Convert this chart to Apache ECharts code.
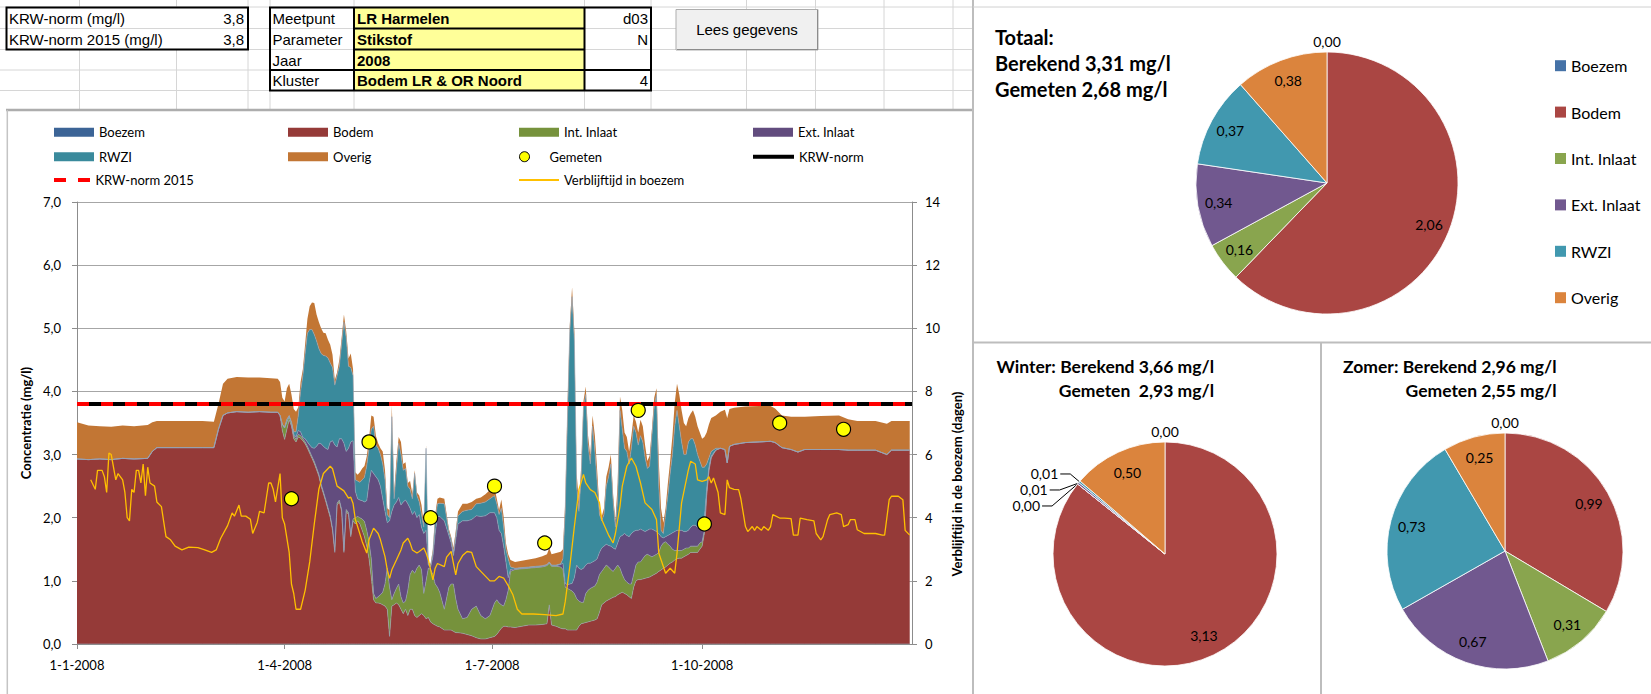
<!DOCTYPE html>
<html lang="nl">
<head>
<meta charset="utf-8">
<title>Stikstof LR Harmelen 2008</title>
<script src="https://cdn.jsdelivr.net/npm/echarts@6/dist/echarts.min.js"></script>
<style>
  html, body { margin: 0; padding: 0; background: #ffffff; }
  #chart { width: 1651px; height: 694px; }
</style>
</head>
<body>
<div id="chart"></div>
<script>
// Dagnummer binnen 2008 (0 = 1 januari 2008) van elke rekenstap van de bronnenverdeling
const dagen = [
  0,5,10,15,20,25,31,33,35,45, 55,60,62,64,66,70,75,80,85,88,
  89,90,91,92,93,94,95,96,97,98, 99,100,101,102,103,104,105,106,107,108,
  109,110,111,112,113,114,115,116,117,118, 119,120,121,122,
  123,124,125,126,127,128,129,130,131,132, 133,134,135,136,137,138,139,140,141,142,
  143,144,145,146,147,148,149,150,151,152, 153,154,155,156,157,158,159,
  161,163,164,165,166,167,169,171,173,175,177,179,181,183,
  184,185,186,187,188,189,190,192,195,198, 201,204,206,207,208,210,212,213,
  214,215,216,217,218,219,220,221,222,223, 224,225,226,227,228,229,230,231,232,233,
  234,235,236,237,238,239,240,241,242,243, 244,245,246,247,248,249,250,251,252,253,
  254,255,256,257,258,259,260,261,262,263, 264,265,266,267,268,269,270,271,272,273,
  274,275,276,277,278, 280,
  282,284,285,286,288,293,299,304,306,309, 313,316,319,326,334,338,342,350,355,357, 365
];

// Bijdragen per bron (mg/l), gestapeld
const boezem = [
  0,0,0,0,0,0,0,0,0,0, 0,0,0,0,0,0,0,0,0,0,
  0,0,0,0,0,0,0,0,0,0, 0,0,0,0,0,0,0,0,0,0,
  0,0,0,0,0,0,0,0,0,0, 0,0,0,0,
  0,0,0,0,0,0,0,0,0,0, 0,0,0,0,0,0,0,0,0,0,
  0,0,0,0,0,0,0,0,0,0, 0,0,0,0,0,0,0,
  0,0,0,0,0,0,0,0,0,0,0,0,0,0,
  0,0,0,0,0,0,0,0,0,0, 0,0,0,0,0,0,0,0,
  0,0,0,0,0,0,0,0,0,0, 0,0,0,0,0,0,0,0,0,0,
  0,0,0,0,0,0,0,0,0,0, 0,0,0,0,0,0,0,0,0,0,
  0,0,0,0,0,0,0,0,0,0, 0,0,0,0,0,0,0,0,0,0,
  0,0,0,0,0, 0,
  0,0,0,0,0,0,0,0,0,0, 0,0,0,0,0,0,0,0,0,0, 0
];
const bodem = [
  2.93,2.92,2.93,2.92,2.94,2.93,2.94,3.05,3.11,3.11, 3.11,3.11,3.40,3.62,3.66,3.68,3.67,3.68,3.67,3.67,
  3.62,3.38,3.24,3.40,3.55,3.45,3.25,3.20,3.28,3.26, 3.22,3.17,3.10,3.02,2.94,2.86,2.76,2.66,2.50,2.38,
  2.26,2.13,2.00,1.80,1.45,2.20,2.25,2.10,1.45,2.10, 2.05,1.70,1.95,1.90,
  1.95,1.90,1.80,1.70,1.55,1.35,1.05,0.70,0.65,0.65, 0.64,0.62,0.60,0.55,0.12,0.60,0.62,0.65,0.62,0.55,
  0.48,0.55,0.45,0.55,0.55,0.45,0.42,0.45,0.48,0.45, 0.40,0.42,0.35,0.32,0.30,0.28,0.27,
  0.22,0.22,0.22,0.20,0.18,0.18,0.17,0.15,0.13,0.10,0.08,0.08,0.10,0.12,
  0.15,0.20,0.25,0.28,0.28,0.27,0.27,0.26,0.28,0.30, 0.30,0.31,0.32,0.62,0.30,0.28,0.25,0.24,
  0.24,0.22,0.22,0.22,0.22,0.22,0.28,0.32,0.33,0.34, 0.35,0.36,0.37,0.38,0.40,0.50,0.62,0.65,0.68,0.70,
  0.72,0.74,0.75,0.78,0.80,0.82,0.80,0.78,0.75,0.72, 0.90,1.00,1.02,1.02,1.03,1.04,1.05,1.06,1.08,1.10,
  1.12,1.15,1.17,1.20,1.22,1.25,1.28,1.30,1.33,1.35, 1.36,1.36,1.38,1.40,1.42,1.45,1.45,1.45,1.45,1.50,
  1.55,1.75,2.35,2.75,2.95, 3.07,
  3.10,3.08,2.87,3.13,3.16,3.19,3.20,3.21,3.19,3.11, 3.08,3.04,3.08,3.08,3.08,3.07,3.07,3.07,3.00,3.07, 3.07
];
const intInlaat = [
  0,0,0,0,0,0,0,0,0,0, 0,0,0,0,0,0,0,0,0,0,
  0,0.10,0.18,0.12,0.05,0.05,0.05,0.04,0.04,0.04, 0.03,0.03,0.03,0.03,0.03,0.03,0.03,0.03,0.03,0.03,
  0.03,0.03,0.03,0.03,0.03,0.03,0.03,0.03,0.03,0.03, 0.03,0.03,0.03,0.10,
  0.07,0.10,0.18,0.24,0.25,0.27,0.30,0.10,0.07,0.10, 0.14,0.20,0.35,0.65,0.78,0.10,0.18,0.23,0.33,0.20,
  0.17,0.13,0.40,0.55,0.62,0.67,0.78,0.80,0.70,0.35, 0.60,0.78,0.83,0.78,0.65,0.62,0.55,
  0.33,0.68,0.73,0.75,0.54,0.37,0.23,0.27,0.42,0.50,0.37,0.32,0.35,0.53,
  0.55,0.45,0.37,0.32,0.42,0.58,0.88,0.92,0.91,0.90, 0.91,0.91,0.92,0.66,0.93,0.95,0.97,0.94,
  0.66,0.66,0.64,0.62,0.58,0.50,0.40,0.34,0.33,0.46, 0.50,0.52,0.53,0.54,0.58,0.60,0.53,0.55,0.57,0.52,
  0.46,0.41,0.45,0.47,0.40,0.28,0.22,0.20,0.20,0.23, 0.20,0.25,0.28,0.28,0.32,0.36,0.37,0.34,0.30,0.30,
  0.30,0.30,0.38,0.40,0.40,0.33,0.27,0.20,0.15,0.13, 0.12,0.12,0.12,0.12,0.10,0.10,0.10,0.10,0.10,0.10,
  0.07,0.05,0.03,0.01,0.01, 0,
  0,0,0,0,0,0,0,0,0,0, 0,0,0,0,0,0,0,0,0,0, 0
];
const extInlaat = [
  0,0,0,0,0,0,0,0,0,0, 0,0,0,0,0,0,0,0,0,0,
  0,0,0,0,0,0,0.02,0.04,0.06,0.06, 0.02,0.05,0.07,0.10,0.14,0.21,0.34,0.49,0.64,0.72,
  0.81,0.92,1.17,1.39,1.67,0.89,0.97,1.12,1.70,0.92, 1.02,1.47,1.24,0.42,
  0.28,0.28,0.29,0.31,0.47,0.93,1.40,1.90,1.93,1.85, 1.72,1.48,1.15,0.72,1.05,1.40,1.40,1.37,1.37,1.45,
  1.60,1.60,1.37,1.05,0.88,0.98,0.80,0.80,0.67,0.95, 0.80,0.05,0.04,0.28,0.80,1.12,1.20,
  1.40,0.82,0.65,0.45,0.93,1.35,1.55,1.53,1.42,1.43,1.57,1.63,1.63,1.43,
  1.30,1.15,1.13,0.95,0.60,0.20,0.03,0.01,0.01,0.01, 0.01,0.01,0.01,0.01,0.01,0.01,0.04,0.10,
  0.06,0.06,0.09,0.12,0.25,0.53,0.52,0.52,0.54,0.45, 0.43,0.40,0.40,0.40,0.37,0.35,0.37,0.35,0.33,0.34,
  0.37,0.37,0.30,0.35,0.50,0.62,0.73,0.74,0.75,0.80, 0.68,0.55,0.50,0.52,0.45,0.38,0.38,0.42,0.44,0.40,
  0.36,0.30,0.15,0.08,0.08,0.14,0.19,0.26,0.30,0.32, 0.32,0.32,0.28,0.26,0.28,0.30,0.33,0.33,0.30,0.25,
  0.26,0.20,0.07,0.04,0.02, 0,
  0,0,0,0,0,0,0,0,0,0, 0,0,0,0,0,0,0,0,0,0, 0
];
const rwzi = [
  0,0,0,0,0,0,0,0,0,0, 0,0,0,0,0,0,0,0,0,0,
  0,0,0.02,0.04,0.02,0.02,0.04,0.08,0.24,0.64, 0.98,1.35,1.72,1.83,1.87,1.80,1.67,1.50,1.43,1.44,
  1.46,1.45,1.25,1.16,0.95,1.13,1.15,1.50,1.92,1.80, 1.30,1.18,1.03,0.18,
  0.28,0.28,0.33,0.39,0.55,0.55,0.65,0.75,0.50,0.50, 0.50,0.55,0.50,0.13,0.05,1.50,0.10,0.50,0.86,0.80,
  0.50,0.50,0.28,0.30,0.25,0.60,0.35,0.20,0.20,0.10, 1.30,0.01,0.02,0.07,0.20,0.20,0.21,
  0.27,0.06,0.06,0.05,0.07,0.13,0.15,0.17,0.16,0.19,0.21,0.22,0.22,0.27,
  0.22,0.25,0.40,0.30,0.20,0.30,0.04,0.01,0.01,0.01, 0.01,0.01,0.01,0.01,0.01,0.01,0.01,0.07,
  1.14,2.66,4.00,4.54,3.75,1.25,0.90,1.47,2.55,2.70, 1.87,1.57,2.15,1.73,1.20,0.60,0.43,0.50,0.92,1.09,
  1.30,0.73,0.35,0.70,2.00,1.68,1.35,1.33,1.15,1.35, 1.67,1.55,1.35,1.48,1.40,1.17,0.98,1.00,1.48,1.95,
  2.17,0.75,0.10,0.07,0.35,0.63,0.96,1.24,1.67,1.90, 1.65,1.40,1.22,1.22,1.40,1.40,1.37,1.27,1.15,1.05,
  0.92,0.80,0.40,0.15,0.07, 0.03,
  0,0,0,0,0,0,0,0,0,0, 0,0,0,0,0,0,0,0,0,0, 0
];
const overig = [
  0.58,0.54,0.52,0.52,0.52,0.52,0.53,0.46,0.42,0.42, 0.42,0.41,0.40,0.50,0.54,0.55,0.55,0.54,0.54,0.53,
  0.53,0.42,0.40,0.49,0.50,0.43,0.36,0.32,0.13,0.15, 0.10,0.15,0.23,0.37,0.43,0.50,0.42,0.42,0.40,0.36,
  0.36,0.29,0.29,0.20,0.08,0.05,0.10,0.10,0.12,0.10, 0.12,0.22,0.10,0.12,
  0.10,0.16,0.18,0.18,0.15,0.15,0.22,0.15,0.15,0.08, 0.10,0.20,0.15,0.10,0.12,0.18,0.10,0.15,0.10,0.20,
  0.10,0.10,0.05,0.13,0.08,0.05,0.05,0.10,0.15,0.05, 0.05,0.02,0.03,0.05,0.10,0.08,0.09,
  0.08,0.04,0.04,0.07,0.06,0.07,0.12,0.10,0.12,0.08,0.09,0.12,0.14,0.13,
  0.08,0.07,0.14,0.17,0.10,0.07,0.11,0.10,0.11,0.12, 0.13,0.15,0.16,0.22,0.17,0.19,0.19,0.15,
  0.15,0.20,0.10,0.15,0.15,0.20,0.15,0.15,0.10,0.13, 0.15,0.13,0.17,0.25,0.20,0.10,0.07,0.10,0.15,0.15,
  0.15,0.10,0.10,0.25,0.22,0.30,0.25,0.23,0.20,0.20, 0.17,0.17,0.20,0.25,0.25,0.20,0.12,0.16,0.10,0.15,
  0.10,0.40,0.35,0.17,0.10,0.20,0.20,0.30,0.37,0.42, 0.50,0.50,0.50,0.45,0.38,0.40,0.45,0.45,0.45,0.45,
  0.45,0.48,0.50,0.53,0.53, 0.52,
  0.58,0.63,0.71,0.59,0.58,0.57,0.57,0.56,0.54,0.51, 0.52,0.56,0.52,0.53,0.54,0.49,0.46,0.46,0.49,0.46, 0.46
];

// Verblijftijd in de boezem (dagen), rechteras
const verblijfDagen = [
  6,8,9,11,12,13,14,15,17,18, 20,21,22,23,24,25,26,27,28,29,
  30,31,32,34,35,37,39,41,43,46, 49,53,56,59,61,63,66,68,69,71,
  72,74,76,77,79,80,82,84,85,86, 87,89,90,91,93,94,95,96,98,100,
  102,104,106,108,111,112,114,117,119,120, 121,122,125,127,128,130,132,133,135,136,
  137,138,140,142,143,145,146,147,149,150, 152,153,154,156,157,158,161,162,164,165,
  166,167,169,171,173,175,177,179,181,183, 185,187,189,191,193,195,200,205,210,213,
  214,216,218,220,222,223,225,227,229,230, 233,235,236,238,239,241,243,245,247,249,
  252,254,255,258,260,262,263,265,268,269, 271,272,274,276,277,278,279,281,282,284,
  285,286,288,290,291,293,294,296,297,298, 300,301,303,304,305,308,310,313,314,316,
  317,320,323,324,326,327,329,330,333,335, 336,338,339,341,342,345,347,350,353,354,
  356,357,360,362,363,365
];
const verblijfTijd = [
  5.2,4.9,5.5,5.5,5.3,4.8,6.05,6.0,5.2,5.4, 5.2,4.8,4.0,3.9,4.9,4.8,5.5,5.5,5.1,5.7,
  4.7,5.6,5.1,5.0,4.5,4.35,3.4,3.3,3.1,2.98, 3.07,3.05,2.98,2.9,2.98,3.35,3.75,4.15,4.05,4.4,
  4.05,4.05,3.95,3.5,3.85,4.2,4.15,5.1,5.1,4.9, 4.5,5.4,4.0,3.8,2.9,1.9,1.6,1.1,1.1,1.7,
  2.6,3.8,4.9,5.4,5.63,5.55,5.0,4.85,4.62,4.65, 4.45,3.95,3.25,2.88,3.3,3.67,3.5,3.3,2.77,2.35,
  2.08,2.35,2.66,2.98,3.2,3.35,3.2,2.98,2.88,2.93, 3.04,2.88,2.67,2.03,2.4,2.55,2.45,2.75,2.93,2.55,
  2.19,2.55,2.8,2.93,2.9,2.45,2.3,2.15,2.0,2.0, 2.14,2.09,1.85,1.57,1.1,0.95,0.95,0.93,0.9,0.95,
  1.34,2.45,3.72,4.89,5.37,5.1,4.89,4.8,4.47,3.94, 3.45,3.2,3.5,4.36,5.0,5.63,5.89,5.63,5.1,4.47,
  4.26,3.94,2.88,2.24,2.4,2.24,2.88,4.47,5.52,5.79, 5.7,5.2,5.15,5.2,5.3,5.1,5.26,4.8,4.15,4.1,
  5.2,4.95,4.9,4.89,4.6,3.72,3.56,3.72,3.6,3.72, 3.6,3.72,3.6,3.72,4.1,3.99,3.99,3.97,3.45,3.45,
  3.99,3.94,3.9,3.5,3.3,3.4,3.94,4.1,4.15,4.1, 3.72,3.78,3.94,3.94,3.62,3.5,3.5,3.5,3.45,3.45,
  4.57,4.68,4.68,4.57,3.6,3.45
];

// Gemeten concentraties (mg/l)
const gemetenDagen = [94, 128, 155, 183, 205, 246, 275, 308, 336];
const gemetenWaarden = [2.30, 3.20, 2.00, 2.50, 1.60, 3.70, 1.90, 3.50, 3.40];

const krwNorm = 3.8;
const krwNorm2015 = 3.8;

// Verdeling per bron voor de taartdiagrammen
const pieNamen = ['Boezem', 'Bodem', 'Int. Inlaat', 'Ext. Inlaat', 'RWZI', 'Overig'];
const pieTotaal = [0.00, 2.06, 0.16, 0.34, 0.37, 0.38];
const pieWinter = [0.00, 3.13, 0.00, 0.01, 0.01, 0.50];
const pieZomer = [0.00, 0.99, 0.31, 0.67, 0.73, 0.25];
const berekend = [3.31, 3.66, 2.96];
const gemeten = [2.68, 2.93, 2.55];

// Kopgegevens
const meetpunt = 'LR Harmelen', meetpuntCode = 'd03';
const parameter = 'Stikstof', parameterCode = 'N';
const jaar = '2008';
const kluster = 'Bodem LR & OR Noord', klusterCode = '4';

// ---------------------------------------------------------------
const komma = (v, n) => v.toFixed(n).replace('.', ',');
const datum = d => new Date(2008, 0, 1 + d).getTime();

const areaKleur = ['#3C6496', '#953A38', '#76923C', '#624C7E', '#3A8A9C', '#C27634'];
const pieKleuren = ['#4572A7', '#AA4643', '#89A54E', '#71588F', '#4198AF', '#DB843D'];
const bronWaarden = [boezem, bodem, intInlaat, extInlaat, rwzi, overig];
const bronNamen = ['Boezem', 'Bodem', 'Int. Inlaat', 'Ext. Inlaat', 'RWZI', 'Overig'];

const series = bronNamen.map((naam, k) => ({
  name: naam,
  type: 'line',
  stack: 'bron',
  symbol: 'none',
  data: dagen.map((d, i) => [datum(d), bronWaarden[k][i]]),
  itemStyle: { color: areaKleur[k] },
  areaStyle: { color: areaKleur[k], opacity: 1 },
  lineStyle: { width: naam === 'Overig' ? 0 : 0.7, color: 'rgba(150,162,182,0.85)' },
  emphasis: { disabled: true },
  z: 2
}));

series.push({
  name: 'KRW-norm', type: 'line', symbol: 'none',
  data: [[datum(0), krwNorm], [datum(366), krwNorm]],
  lineStyle: { color: '#000000', width: 4 }, itemStyle: { color: '#000000' },
  emphasis: { disabled: true }, z: 3
});
series.push({
  name: 'KRW-norm 2015', type: 'line', symbol: 'none',
  data: [[datum(0), krwNorm2015], [datum(366), krwNorm2015]],
  lineStyle: { color: '#FF0000', width: 4, type: [12, 12] }, itemStyle: { color: '#FF0000' },
  emphasis: { disabled: true }, z: 3
});
series.push({
  name: 'Verblijftijd in boezem', type: 'line', symbol: 'none', yAxisIndex: 1,
  data: verblijfDagen.map((d, i) => [datum(d), verblijfTijd[i]]),
  lineStyle: { color: '#FFC000', width: 1.3 }, itemStyle: { color: '#FFC000' },
  emphasis: { disabled: true }, z: 4
});
series.push({
  name: 'Gemeten', type: 'scatter', symbol: 'circle', symbolSize: 14,
  data: gemetenDagen.map((d, i) => [datum(d), gemetenWaarden[i]]),
  itemStyle: { color: '#FFFF00', borderColor: '#000000', borderWidth: 1.2, opacity: 1 },
  emphasis: { disabled: true }, z: 5
});

// Taartdiagram: sectoren, labels binnen de rand en het label van de lege eerste sector erboven
function taart(waarden, midden, straal, labelStraal) {
  const fmt = p => komma(p.value, 2);
  const basis = pieNamen.map((n, i) => ({ name: n, value: waarden[i] }));
  const klein = (v, i) => i > 0 && v < 0.1;
  const tekst = { color: '#000', fontFamily: 'Lato', fontSize: 14, formatter: fmt };
  const gemeen = { type: 'pie', center: midden, startAngle: 90, clockwise: true, silent: true,
    emphasis: { disabled: true }, avoidLabelOverlap: true };
  return [
    Object.assign({}, gemeen, {
      radius: straal,
      data: basis.map((d, i) => ({ name: d.name, value: d.value, itemStyle: { color: pieKleuren[i] },
        label: { show: klein(d.value, i) }, labelLine: { show: klein(d.value, i) } })),
      itemStyle: { borderColor: '#ffffff', borderWidth: 0.8 },
      label: Object.assign({ position: 'outside', distanceToLabelLine: 2 }, tekst),
      labelLine: { length: 12, length2: 10, lineStyle: { color: '#000', width: 1 } },
      z: 3
    }),
    Object.assign({}, gemeen, {
      radius: [2 * (labelStraal - 3) - straal, straal],
      data: basis.map((d, i) => ({ name: d.name, value: d.value, label: { show: i > 0 && !klein(d.value, i) } })),
      itemStyle: { color: 'rgba(0,0,0,0)', borderWidth: 0 },
      label: Object.assign({ position: 'inside' }, tekst),
      labelLine: { show: false },
      z: 4
    }),
    Object.assign({}, gemeen, {
      radius: [straal + 4, straal + 12],
      data: basis.map((d, i) => ({ name: d.name, value: d.value, label: { show: i === 0 } })),
      itemStyle: { color: 'rgba(0,0,0,0)', borderWidth: 0 },
      label: Object.assign({ position: 'inside' }, tekst),
      labelLine: { show: false },
      z: 4
    })
  ];
}
series.push(...taart(pieTotaal, [1327, 183], 131, 110));
series.push(...taart(pieWinter, [1165, 554], 112, 90));
series.push(...taart(pieZomer, [1505, 551], 118, 96.5));

// Legenda's van de tijdreeks, in vier kolommen
const legendaTekst = { fontFamily: 'Lato', fontSize: 13, color: '#000', lineHeight: 14 };
const legendaIcoon = {
  'Boezem': { icon: 'rect', w: 40, h: 9, style: { color: areaKleur[0] } },
  'Bodem': { icon: 'rect', w: 40, h: 9, style: { color: areaKleur[1] } },
  'Int. Inlaat': { icon: 'rect', w: 40, h: 9, style: { color: areaKleur[2] } },
  'Ext. Inlaat': { icon: 'rect', w: 40, h: 9, style: { color: areaKleur[3] } },
  'RWZI': { icon: 'rect', w: 40, h: 9, style: { color: areaKleur[4] } },
  'Overig': { icon: 'rect', w: 40, h: 9, style: { color: areaKleur[5] } },
  'Gemeten': { icon: 'circle', w: 40, h: 10, style: { color: '#FFFF00', borderColor: '#000', borderWidth: 1 } },
  'KRW-norm': { icon: 'rect', w: 41, h: 4, style: { color: '#000' } },
  'KRW-norm 2015': { icon: 'path://M0,0h12v4h-12zM24,0h12v4h-12z', w: 37, h: 4, style: { color: '#FF0000' } },
  'Verblijftijd in boezem': { icon: 'rect', w: 40, h: 2, style: { color: '#FFC000' } }
};
const legendaPlek = [
  ['Boezem', 54, 132.3], ['Bodem', 288, 132.3], ['Int. Inlaat', 519, 132.3], ['Ext. Inlaat', 753, 132.3],
  ['RWZI', 54, 156.7], ['Overig', 288, 156.7], ['Gemeten', 519, 156.7], ['KRW-norm', 753, 156.7],
  ['KRW-norm 2015', 54, 180], ['Verblijftijd in boezem', 519, 180]
];
const legend = legendaPlek.map(([naam, x, y]) => {
  const s = legendaIcoon[naam];
  return {
    left: x, top: y - 7, padding: 0, selectedMode: false, orient: 'horizontal',
    itemWidth: s.w, itemHeight: s.h, textStyle: legendaTekst,
    data: [{ name: naam, icon: s.icon, itemStyle: Object.assign({ borderWidth: 0 }, s.style) }]
  };
});
legend.push({
  left: 1555, top: 56.7, padding: 0, orient: 'vertical', selectedMode: false,
  itemWidth: 11, itemHeight: 11, itemGap: 28.4,
  textStyle: { fontFamily: 'Lato', fontSize: 16, color: '#000', lineHeight: 18 },
  data: pieNamen.map((n, i) => ({ name: n, icon: 'rect', itemStyle: { color: pieKleuren[i], borderWidth: 0 } }))
});

// Werkblad rondom de grafieken: rasterlijnen, invoervakken en knop
const g = [];
const lijn = (x1, y1, x2, y2, kleur, breedte) =>
  g.push({ type: 'line', silent: true, shape: { x1, y1, x2, y2 }, style: { stroke: kleur, lineWidth: breedte } });
const vak = (x, y, w, h, vul, rand, rb) =>
  g.push({ type: 'rect', silent: true, shape: { x, y, width: w, height: h }, style: { fill: vul, stroke: rand || null, lineWidth: rb || 0 } });
const tekst = (t, x, y, extra) =>
  g.push({ type: 'text', silent: true, x, y, style: Object.assign({ text: t, fill: '#000', fontFamily: 'Liberation Sans', fontSize: 15, align: 'left', verticalAlign: 'middle' }, extra || {}) });

const raster = '#D6D6D6';
[7, 28.5, 49.5, 70, 90.5].forEach(y => lijn(0, y, 973, y, raster, 1));
[79.5, 176.5, 248, 270, 354, 584.5, 651, 746.5, 815.5, 884, 953].forEach(x => lijn(x, 0, x, 110, raster, 1));

// KRW-normen
vak(6.5, 7.5, 241.5, 42, '#ffffff');
lijn(6.5, 28.5, 248, 28.5, raster, 1);
vak(6.5, 7.5, 241.5, 42, null, '#000', 2);
tekst('KRW-norm (mg/l)', 9, 18);
tekst(komma(krwNorm, 1), 244, 18, { align: 'right' });
tekst('KRW-norm 2015 (mg/l)', 9, 39);
tekst(komma(krwNorm2015, 1), 244, 39, { align: 'right' });

// Keuze meetpunt
[[7.5, 21], [28.5, 21], [49.5, 20.5], [70, 20.5]].forEach(([y, h]) => vak(354, y, 230.5, h, '#FFFF99'));
lijn(354, 28.5, 584.5, 28.5, '#000', 2);
lijn(354, 49.5, 584.5, 49.5, '#000', 2);
lijn(270, 70, 651, 70, '#000', 2);
lijn(354, 7.5, 354, 90.5, '#000', 2);
lijn(584.5, 7.5, 584.5, 90.5, '#000', 2);
vak(270, 7.5, 381, 83, null, '#000', 2);
const rijY = [18, 39, 60, 80.5];
['Meetpunt', 'Parameter', 'Jaar', 'Kluster'].forEach((t, i) => tekst(t, 272.5, rijY[i]));
[meetpunt, parameter, jaar, kluster].forEach((t, i) => tekst(t, 357, rijY[i], { fontWeight: 'bold' }));
[meetpuntCode, parameterCode, '', klusterCode].forEach((t, i) => tekst(t, 648, rijY[i], { align: 'right' }));

// Knop
vak(676, 9.5, 142, 40.5, '#F0F0F0', '#ADADAD', 1);
lijn(677, 49.5, 818, 49.5, '#8C8C8C', 1);
lijn(817.5, 10, 817.5, 50, '#8C8C8C', 1);
tekst('Lees gegevens', 747, 29.5, { align: 'center' });

// Kaders van de grafiekobjecten
lijn(6, 110, 973, 110, '#ADADAD', 2.5);
lijn(7.3, 110, 7.3, 694, '#C4C4C4', 1.5);
lijn(973, 0, 973, 694, '#BDBDBD', 2);
lijn(973, 7, 1651, 7, '#D0D0D0', 1);
lijn(973, 342.5, 1651, 342.5, '#BDBDBD', 2);
lijn(1321, 342.5, 1321, 694, '#BDBDBD', 2);

// Titels bij de taartdiagrammen
const titel = { fill: '#000', fontFamily: 'Lato', fontWeight: 'bold' };
g.push({ type: 'text', silent: true, x: 995, y: 23.5, style: Object.assign({
  text: 'Totaal:\nBerekend ' + komma(berekend[0], 2) + ' mg/l\nGemeten ' + komma(gemeten[0], 2) + ' mg/l',
  fontSize: 20, lineHeight: 26.3, align: 'left', verticalAlign: 'top' }, titel) });
g.push({ type: 'text', silent: true, x: 1214, y: 354.7, style: Object.assign({
  text: 'Winter: Berekend ' + komma(berekend[1], 2) + ' mg/l\nGemeten  ' + komma(gemeten[1], 2) + ' mg/l',
  fontSize: 17.5, lineHeight: 24, align: 'right', verticalAlign: 'top' }, titel) });
g.push({ type: 'text', silent: true, x: 1556.5, y: 354.7, style: Object.assign({
  text: 'Zomer: Berekend ' + komma(berekend[2], 2) + ' mg/l\nGemeten ' + komma(gemeten[2], 2) + ' mg/l',
  fontSize: 17.5, lineHeight: 24, align: 'right', verticalAlign: 'top' }, titel) });

const asKleur = '#8C8C8C';
const asTekst = { color: '#000', fontFamily: 'Lato', fontSize: 13 };
const option = {
  animation: false,
  backgroundColor: '#ffffff',
  textStyle: { fontFamily: 'Lato' },
  grid: { left: 77, right: 739, top: 202, bottom: 50, containLabel: false },
  xAxis: {
    type: 'time', min: datum(0), max: datum(366), splitNumber: 4,
    axisLine: { lineStyle: { color: asKleur, width: 1 } },
    axisTick: { show: true, length: 5, lineStyle: { color: asKleur } },
    axisLabel: Object.assign({
      margin: 14, showMaxLabel: false, showMinLabel: true, hideOverlap: false,
      formatter: v => { const d = new Date(v); return d.getDate() + '-' + (d.getMonth() + 1) + '-' + d.getFullYear(); }
    }, asTekst),
    splitLine: { show: false }
  },
  yAxis: [
    {
      type: 'value', min: 0, max: 7, interval: 1,
      name: 'Concentratie (mg/l)', nameLocation: 'middle', nameGap: 43, nameRotate: 90,
      nameTextStyle: { color: '#000', fontFamily: 'Lato', fontSize: 13, fontWeight: 'bold' },
      axisLine: { show: true, lineStyle: { color: asKleur } },
      axisTick: { show: true, length: 5, lineStyle: { color: asKleur } },
      axisLabel: Object.assign({ margin: 16, formatter: v => komma(v, 1) }, asTekst),
      splitLine: { show: true, lineStyle: { color: '#A6A6A6', width: 1 } }
    },
    {
      type: 'value', min: 0, max: 14, interval: 2, position: 'right',
      name: 'Verblijftijd in de boezem (dagen)', nameLocation: 'middle', nameGap: 32, nameRotate: 90,
      nameTextStyle: { color: '#000', fontFamily: 'Lato', fontSize: 13, fontWeight: 'bold', padding: [0, 122, 0, 0] },
      axisLine: { show: true, lineStyle: { color: asKleur } },
      axisTick: { show: true, length: 5, lineStyle: { color: asKleur } },
      axisLabel: Object.assign({ margin: 13 }, asTekst),
      splitLine: { show: false }
    }
  ],
  legend: legend,
  graphic: { elements: g },
  series: series
};

const chart = echarts.init(document.getElementById('chart'), null, { renderer: 'svg' });
chart.setOption(option);
</script>
</body>
</html>
